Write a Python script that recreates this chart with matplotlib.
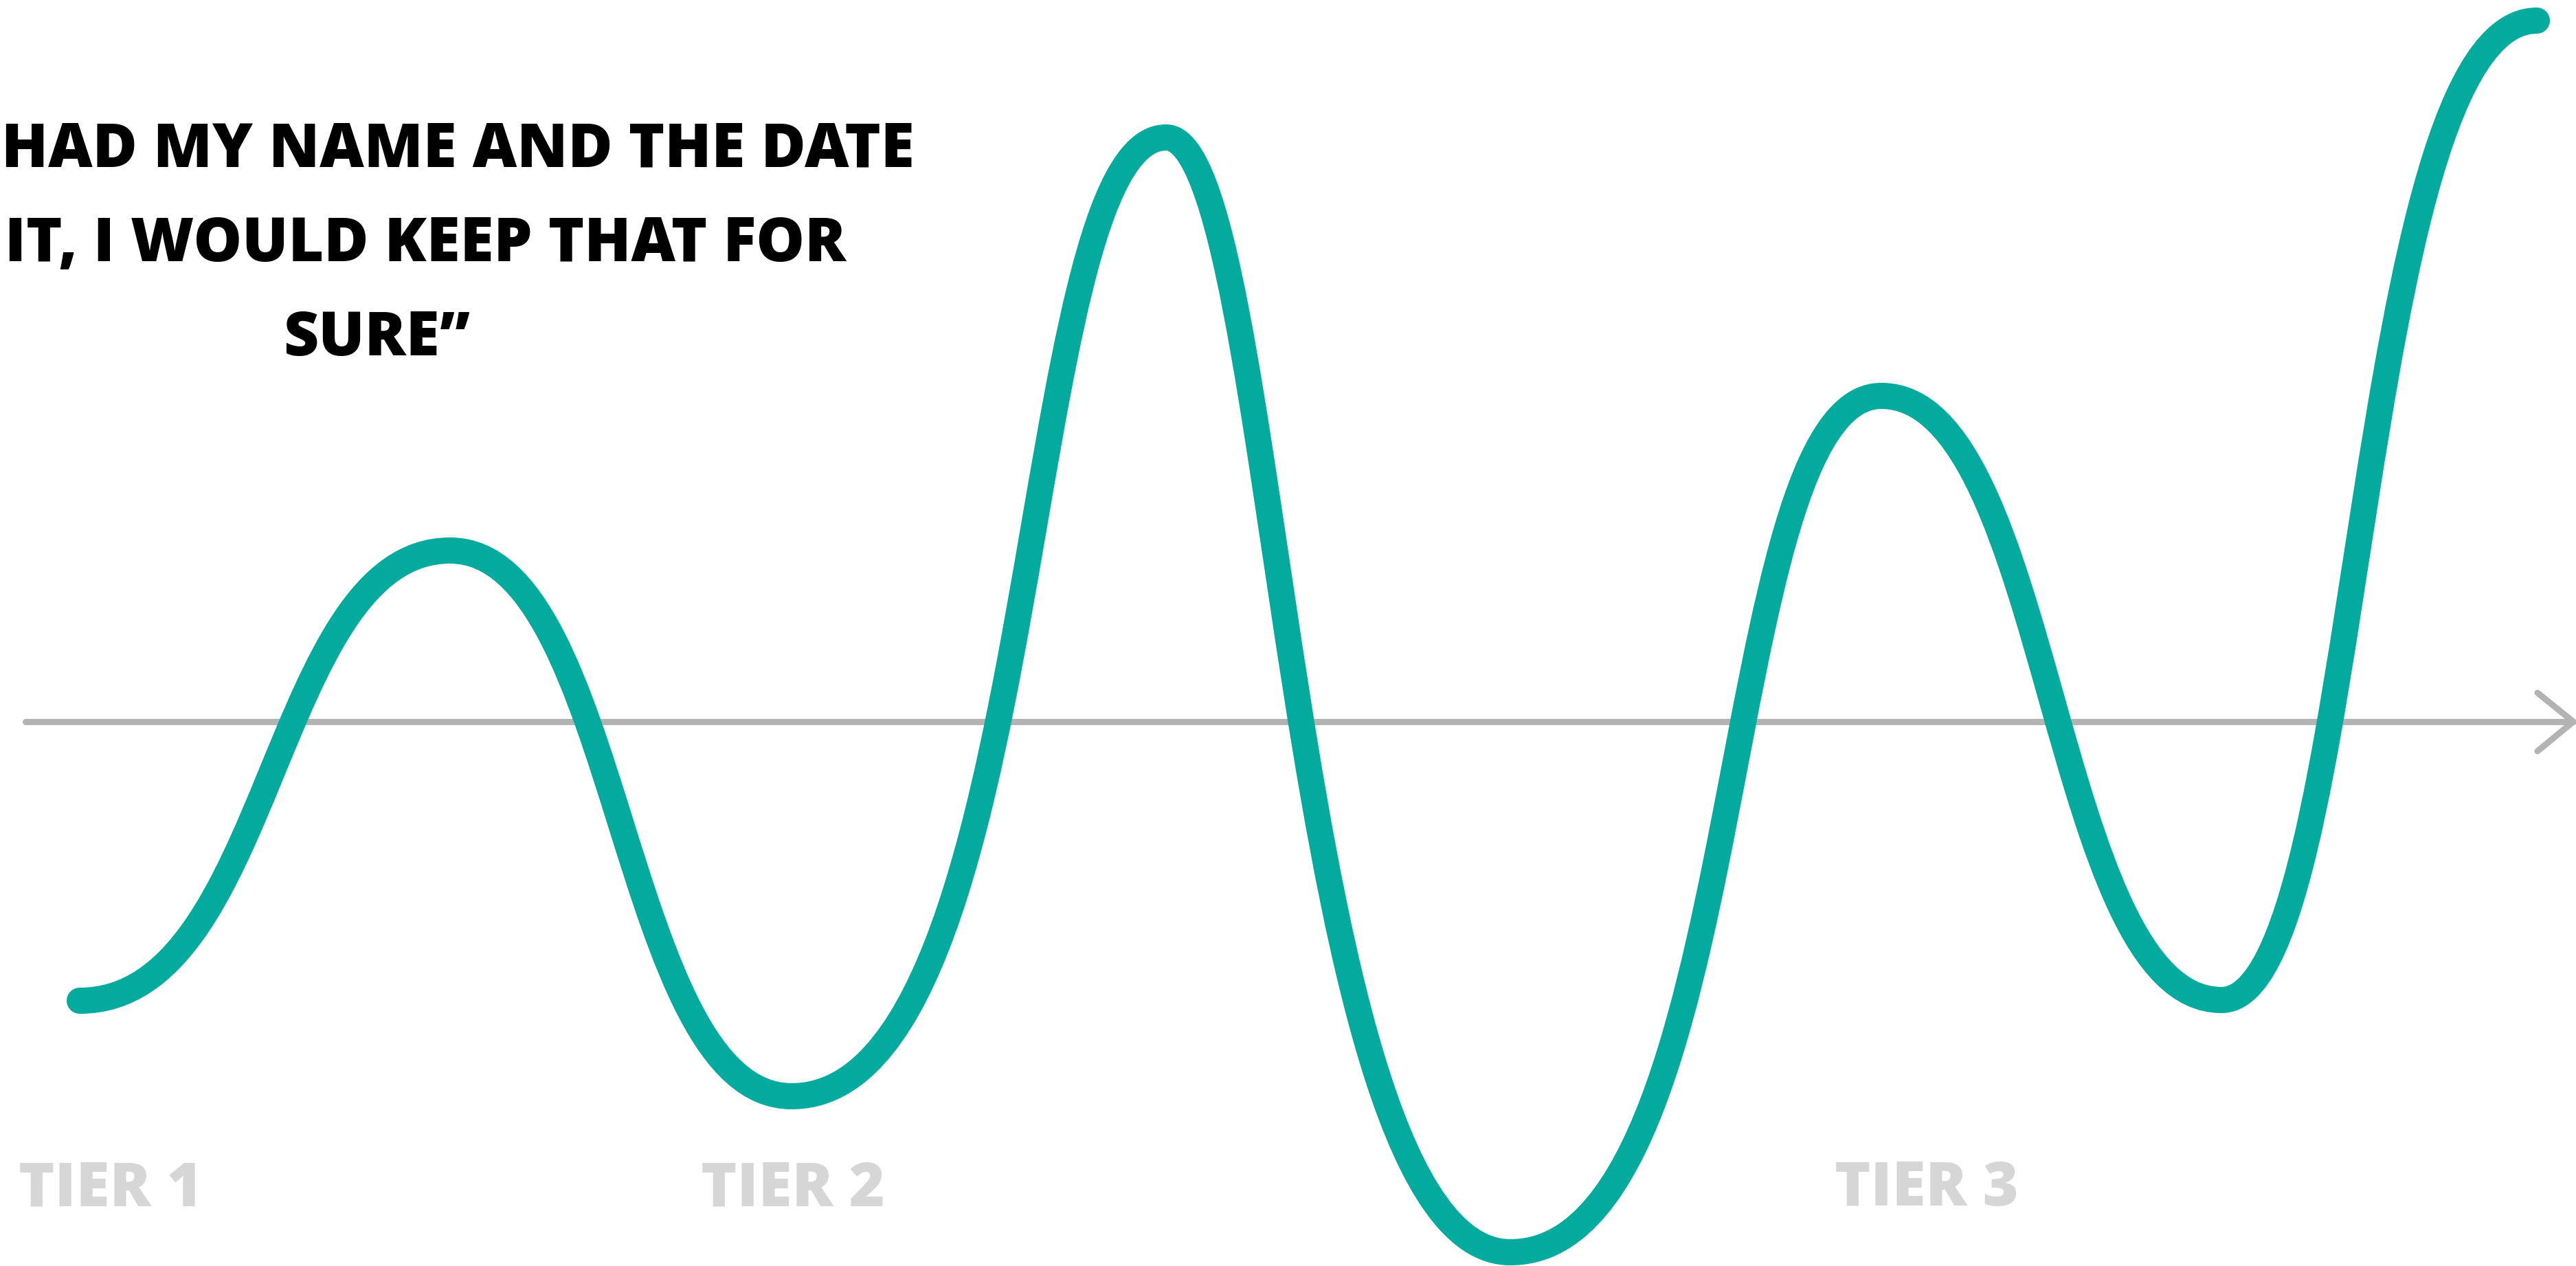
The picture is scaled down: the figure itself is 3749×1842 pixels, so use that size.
import matplotlib
matplotlib.use("Agg")
import matplotlib.pyplot as plt
from matplotlib.path import Path
from matplotlib.patches import PathPatch

# ---- data (x positions and levels of the curve's turning points) ----
x_pts = [1.16, 6.55, 11.52, 16.97, 21.98, 27.38, 32.33, 36.92]
y_vals = [-4.06, 2.49, -5.45, 8.50, -7.72, 4.74, -4.05, 10.20]

# handle fractions for each segment (shape of the smooth curve)
handle_out = [0.52, 0.50, 0.68, 0.33, 0.65, 0.50, 0.45]
handle_in = [0.48, 0.50, 0.40, 0.65, 0.45, 0.50, 0.58]

quote_lines = ["HAD MY NAME AND THE DATE", "IT, I WOULD KEEP THAT FOR", "SURE\u201d"]
tier_labels = ["TIER 1", "TIER 2", "TIER 3"]
tier_x = [0.27, 10.20, 26.70]

TEAL = "#02ab9e"
AXIS_GREY = "#b3b3b3"
TIER_GREY = "#d6d6d6"
FONT = ["Open Sans", "DejaVu Sans"]

W, H = 3749, 1842
fig = plt.figure(figsize=(W / 100, H / 100), dpi=100)
ax = fig.add_axes([0, 0, 1, 1])
ax.set_xlim(0, 37.49)
ax.set_ylim(-7.92, 10.50)
ax.axis("off")

# baseline axis with chevron arrow
ax.plot([0.37, 37.45], [0, 0], color=AXIS_GREY, lw=6.5, solid_capstyle="round", zorder=1)
ax.plot([36.93, 37.45, 36.93], [0.42, 0, -0.43], color=AXIS_GREY, lw=6.5,
        solid_capstyle="round", solid_joinstyle="round", zorder=1)

# smooth curve through the turning points
verts = [(x_pts[0], y_vals[0])]
codes = [Path.MOVETO]
for i in range(len(x_pts) - 1):
    x0, y0 = x_pts[i], y_vals[i]
    x1, y1 = x_pts[i + 1], y_vals[i + 1]
    dx = x1 - x0
    verts += [(x0 + handle_out[i] * dx, y0), (x1 - handle_in[i] * dx, y1), (x1, y1)]
    codes += [Path.CURVE4] * 3
patch = PathPatch(Path(verts, codes), facecolor="none", edgecolor=TEAL, lw=27.4,
                  capstyle="round", joinstyle="round", zorder=3)
ax.add_patch(patch)

# quote text
qx = [0.02, 0.07, 4.12]
qy = [8.08, 6.70, 5.33]
for s, x, y in zip(quote_lines, qx, qy):
    ax.text(x, y, s, ha="left", va="baseline", fontsize=64, fontweight=800,
            family=FONT, color="black", zorder=4)

# tier labels
for s, x in zip(tier_labels, tier_x):
    ax.text(x, -7.04, s, ha="left", va="baseline", fontsize=64, fontweight=800,
            family=FONT, color=TIER_GREY, zorder=2)

fig.savefig("out.png", dpi=100, facecolor="white")
